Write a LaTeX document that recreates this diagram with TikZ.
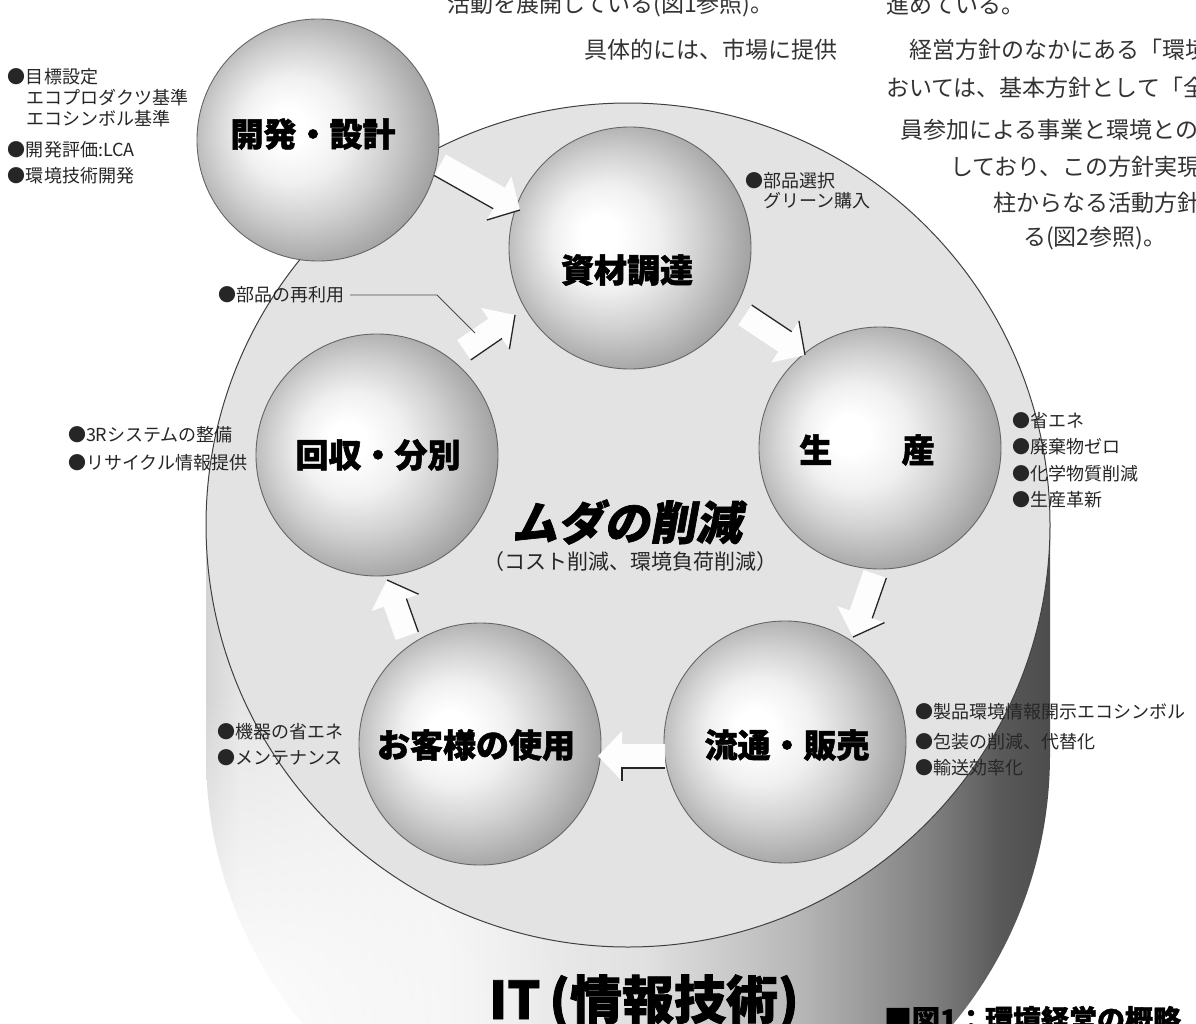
\documentclass[tikz,border=0pt]{standalone}
\usepackage{fontspec}
\newfontfamily\jp{Noto Sans CJK JP}
\newfontfamily\jpb{Noto Sans CJK JP}[BoldFeatures={FakeBold=1.5}]
\usetikzlibrary{calc,fadings}
\pgfdeclareradialshading{sphereshade}{\pgfpoint{-7bp}{3bp}}{color(0bp)=(white); color(4bp)=(white); color(11bp)=(black!6); color(18bp)=(black!18); color(24bp)=(black!30); color(28bp)=(black!38); color(40bp)=(black!42)}
\pgfdeclarehorizontalshading{cylside}{100bp}{color(0bp)=(black!17); color(25bp)=(black!17); color(27bp)=(black!10); color(39bp)=(black!5); color(51bp)=(black!12); color(60bp)=(black!28); color(68bp)=(black!50); color(72bp)=(black!65); color(75bp)=(black!70); color(100bp)=(black!70)}
\tikzfading[name=fuzzy, inner color=transparent!0, outer color=transparent!100]
% #1 tail, #2 tip, #3 side angle
\newcommand\arrowbody[2]{%
  \coordinate (ab) at ($(#2)!24pt!(#1)$);
  \fill[arrowfill] ($(#1)!12pt!90:(#2)$) -- ($(ab)!12pt!90:(#2)$) -- ($(ab)!25pt!90:(#2)$) -- (#2) -- ($(ab)!25pt!-90:(#2)$) -- ($(ab)!12pt!-90:(#2)$) -- ($(#1)!12pt!-90:(#2)$) -- cycle;
}
\newcommand\blockarrow[3]{%
  \arrowbody{#1}{#2}
  \draw[arrowedge] ($(#1)!12pt!#3:(#2)$) -- ($(ab)!12pt!#3:(#2)$) ($(ab)!25pt!#3:(#2)$) -- (#2);
}
\newcommand\blockarrowback[3]{%
  \arrowbody{#1}{#2}
  \draw[arrowedge] ($(#1)!12pt!#3:(#2)$) -- ($(ab)!12pt!#3:(#2)$) -- ($(ab)!25pt!#3:(#2)$);
}
\begin{document}
\begin{tikzpicture}[x=1pt,y=-1pt,
  every node/.style={inner sep=0pt, outer sep=0pt},
  art/.style={anchor=west, font=\jp\fontsize{23}{23}\selectfont, text=black!80},
  lab/.style={anchor=west, font=\jp\fontsize{18}{18}\selectfont, text=black!85},
  ttl/.style={font=\jpb\bfseries\fontsize{33}{33}\selectfont, text=black},
  sphere/.style={circle, minimum size=242, shade, shading=sphereshade, draw=black!60, line width=0.9},
  arrowfill/.style={fill=white, opacity=0.95},
  arrowedge/.style={draw=black!85, line width=1.3},
  leader/.style={draw=black!70, line width=0.8}]
\useasboundingbox (0,0) rectangle (1196,1023);
\fill[white] (0,0) rectangle (1196,1023);
% cylinder side
\shade[shading=cylside] (206,525) -- (206,755) arc[start angle=180, end angle=0, radius=422] -- (1050,525) -- cycle;
\fill[white, path fading=fuzzy] (230,1030) circle[radius=340];
% top face
\node[circle, minimum size=844, fill=black!11, draw=black!75, line width=1] (disc) at (628,525) {};
% spheres
\node[sphere] (kaihatsu) at (318,140) {};
\node[sphere] (shizai) at (630,248) {};
\node[sphere] (seisan) at (880,448) {};
\node[sphere] (kaishu) at (377,455) {};
\node[sphere] (okyaku) at (480,744) {};
\node[sphere] (ryutsu) at (785,742) {};
\node[ttl] (kaihatsu-t) at (313,134) {開発・設計};
\node[ttl] (shizai-t) at (627,270) {資材調達};
\node[ttl] (seisan-t) at (867,450) {生\hspace{2.1em}産};
\node[ttl] (kaishu-t) at (378,455) {回収・分別};
\node[ttl] (okyaku-t) at (476,745) {お客様の使用};
\node[ttl] (ryutsu-t) at (787,745) {流通・販売};
% arrows
\coordinate (a1s) at (440,165); \coordinate (a1e) at (520,210);
\coordinate (a2s) at (745,315); \coordinate (a2e) at (805,355);
\coordinate (a3s) at (875,574); \coordinate (a3e) at (853,637);
\coordinate (a4s) at (665,756); \coordinate (a4e) at (598,756);
\coordinate (a5s) at (407,636); \coordinate (a5e) at (387,580);
\coordinate (a6s) at (464,350); \coordinate (a6e) at (515,315);
\blockarrow{a1s}{a1e}{-90}
\blockarrow{a2s}{a2e}{90}
\blockarrow{a3s}{a3e}{90}
\blockarrowback{a4s}{a4e}{90}
\blockarrow{a5s}{a5e}{-90}
\blockarrow{a6s}{a6e}{-90}
% centre text
\begin{scope}[shift={(630,522)}, xslant=0.18]
\node[font=\jpb\bfseries\fontsize{46}{46}\selectfont, transform shape] (muda) at (0,0) {ムダの削減};
\end{scope}
\node[font=\jp\fontsize{21}{21}\selectfont, text=black!85] (muda-sub) at (630,562) {（コスト削減、環境負荷削減）};
\node[font=\jpb\bfseries\fontsize{52}{52}\selectfont, anchor=base] (it) at (644,1019) {IT\,(情報技術)};
\node[font=\jpb\bfseries\fontsize{28}{28}\selectfont, anchor=base west] (fig) at (884,1030) {■図1：環境経営の概略};
% labels
\node[lab] (l1) at (8,77) {●目標設定};
\node[lab] (l2) at (26,98) {エコプロダクツ基準};
\node[lab] (l3) at (26,119) {エコシンボル基準};
\node[lab] (l4) at (8,150) {●開発評価:LCA};
\node[lab] (l5) at (8,176) {●環境技術開発};
\node[lab] (p1) at (745,181) {●部品選択};
\node[lab] (p2) at (763,201) {グリーン購入};
\node[lab] (reuse) at (218,295) {●部品の再利用};
\draw[leader] ([xshift=6]reuse.east) -- (437,295) -- (475,333) coordinate (rl-end);
\node[lab] (r1) at (68,435) {●3Rシステムの整備};
\node[lab] (r2) at (68,463) {●リサイクル情報提供};
\node[lab] (s1) at (1012,421) {●省エネ};
\node[lab] (s2) at (1012,447) {●廃棄物ゼロ};
\node[lab] (s3) at (1012,474) {●化学物質削減};
\node[lab] (s4) at (1012,500) {●生産革新};
\node[lab] (c1) at (217,732) {●機器の省エネ};
\node[lab] (c2) at (217,758) {●メンテナンス};
\node[lab] (d1) at (915,712) {●製品環境情報開示エコシンボル};
\node[lab] (d2) at (915,742) {●包装の削減、代替化};
\node[lab] (d3) at (915,768) {●輸送効率化};
% article text
\node[art] (t1) at (447,5) {活動を展開している(図1参照)。};
\node[art] (t2) at (584,50) {具体的には、市場に提供};
\node[art] (t3) at (886,5) {進めている。};
\node[art] (t4) at (909,50) {経営方針のなかにある「環境};
\node[art] (t5) at (886,88) {おいては、基本方針として「全事};
\node[art] (t6) at (900,130) {員参加による事業と環境との};
\node[art] (t7) at (950,167) {しており、この方針実現の};
\node[art] (t8) at (993,203) {柱からなる活動方針を};
\node[art] (t9) at (1023,238) {る(図2参照)。};
\end{tikzpicture}
\end{document}
